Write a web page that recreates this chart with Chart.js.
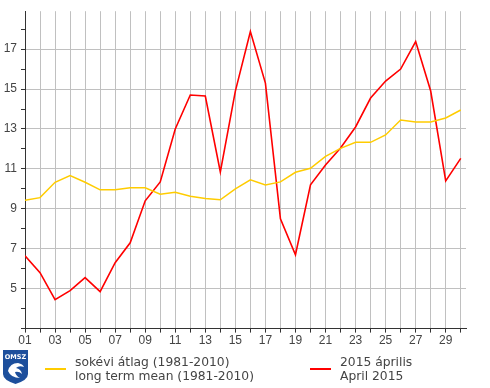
<!DOCTYPE html>
<html>
<head>
<meta charset="utf-8">
<script src="https://cdn.jsdelivr.net/npm/chart.js@4"></script>
<style>
    html, body { margin: 0; padding: 0; background: #fff; }
    #wrap { position: relative; width: 490px; height: 388px; overflow: hidden; }
    canvas { position: absolute; left: 0; top: 0; }
    .leg { position: absolute; font: 12.3px/14px "DejaVu Sans", sans-serif; color: #444; white-space: nowrap; }
    .key { position: absolute; height: 2px; width: 21px; top: 368px; }
    #logo { position: absolute; left: 3px; top: 350px; }
</style>
</head>
<body>
<div id="wrap">
    <canvas id="chart" width="490" height="388"></canvas>
    <svg id="logo" width="25" height="34" viewBox="0 0 25 34">
        <path d="M0 0H25V24Q25 30 12.5 34Q0 30 0 24Z" fill="#1d4f9c"/>
        <text x="12.5" y="9" font-family="DejaVu Sans" font-size="6.5" font-weight="bold" fill="#fff" text-anchor="middle">OMSZ</text>
        <path d="M5 21Q7 13 15 13Q20 14 21 17Q16 15 13 18Q18 19 19 24Q16 21 12 22Q13 26 17 28Q8 28 5 21Z" fill="#fff"/>
    </svg>
    <div class="key" style="left:45px;background:#ffcc00"></div>
    <div class="leg" style="left:75px;top:355px">sokévi átlag (1981-2010)<br>long term mean (1981-2010)</div>
    <div class="key" style="left:310px;background:#ff0000"></div>
    <div class="leg" style="left:340px;top:355px">2015 április<br>April 2015</div>
</div>
<script>
// Daily values, April
const days = [1, 2, 3, 4, 5, 6, 7, 8, 9, 10, 11, 12, 13, 14, 15, 16, 17, 18, 19, 20, 21, 22, 23, 24, 25, 26, 27, 28, 29, 30];
const meanValues = [9.43, 9.56, 10.33, 10.67, 10.33, 9.95, 9.95, 10.05, 10.05, 9.73, 9.83, 9.63, 9.52, 9.45, 10.0, 10.45, 10.2, 10.35, 10.83, 11.03, 11.63, 12.03, 12.33, 12.33, 12.7, 13.45, 13.35, 13.35, 13.55, 13.95];
const aprilValues = [6.65, 5.8, 4.45, 4.9, 5.55, 4.85, 6.3, 7.3, 9.4, 10.35, 13.0, 14.7, 14.65, 10.85, 14.9, 17.88, 15.3, 8.5, 6.7, 10.2, 11.2, 12.05, 13.1, 14.55, 15.4, 16.0, 17.38, 14.9, 10.4, 11.53];

const axisColor = '#333333';
const gridColor = '#c0c0c0';
const tickFont = { family: 'Liberation Sans', size: 12 };

const points = values => values.map((v, i) => ({ x: days[i], y: v }));

new Chart(document.getElementById('chart').getContext('2d'), {
    type: 'line',
    data: {
        datasets: [
            { data: points(meanValues), borderColor: '#ffcc00', borderWidth: 1.5, pointRadius: 0, tension: 0 },
            { data: points(aprilValues), borderColor: '#ff0000', borderWidth: 1.6, pointRadius: 0, tension: 0 }
        ]
    },
    options: {
        responsive: false,
        animation: false,
        plugins: { legend: { display: false }, tooltip: { enabled: false } },
        layout: { padding: { left: 0, top: 10, right: 24, bottom: 39 } },
        scales: {
            x: {
                type: 'linear',
                min: 1,
                max: 30.35,
                border: { color: axisColor, width: 1 },
                grid: { color: gridColor, tickColor: axisColor, tickLength: 4 },
                ticks: {
                    stepSize: 1,
                    includeBounds: false,
                    autoSkip: false,
                    maxRotation: 0,
                    color: '#444',
                    font: tickFont,
                    padding: 1,
                    callback: value => value % 2 === 1 ? String(value).padStart(2, '0') : ''
                }
            },
            y: {
                min: 3,
                max: 18.9,
                afterFit: scale => { scale.width = 25; },
                border: { color: axisColor, width: 1 },
                grid: {
                    color: ctx => ctx.tick && ctx.tick.value % 2 === 1 ? gridColor : 'rgba(0,0,0,0)',
                    tickColor: axisColor,
                    tickLength: 4
                },
                ticks: {
                    stepSize: 1,
                    includeBounds: false,
                    autoSkip: false,
                    color: '#444',
                    font: tickFont,
                    padding: 4,
                    callback: value => value % 2 === 1 && value > 3 ? String(value) : ''
                }
            }
        }
    }
});
</script>
</body>
</html>
